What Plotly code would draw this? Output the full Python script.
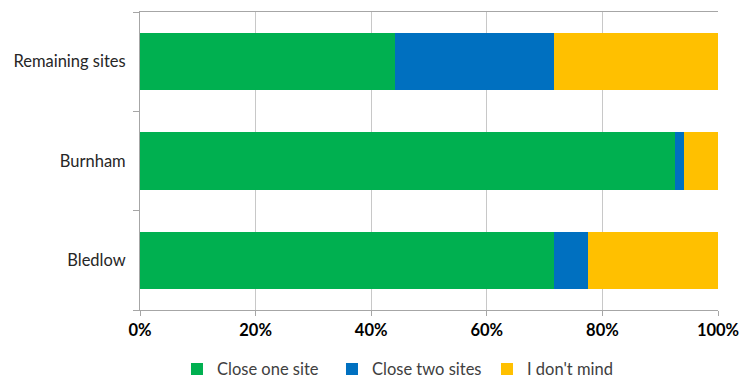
import plotly.graph_objects as go

# Survey responses per site (percent of respondents)
sites = ["Bledlow", "Burnham", "Remaining sites"]
close_one_site = [71.6, 92.5, 44.2]
close_two_sites = [5.9, 1.6, 27.4]
dont_mind = [22.5, 5.9, 28.4]

series = [
    ("Close one site", close_one_site, "#00B050"),
    ("Close two sites", close_two_sites, "#0070C0"),
    ("I don't mind", dont_mind, "#FFC000"),
]

fig = go.Figure()
for name, vals, color in series:
    fig.add_trace(go.Bar(
        y=sites, x=vals, name=name, orientation="h",
        marker=dict(color=color, line=dict(width=0)),
    ))

font_family = "Lato, Calibri, Arial, sans-serif"

fig.update_layout(
    barmode="stack",
    bargap=0.42,
    width=740, height=381,
    margin=dict(l=140, r=22, t=12, b=71, autoexpand=False),
    paper_bgcolor="white",
    plot_bgcolor="white",
    font=dict(family=font_family, size=16.5, color="#404040"),
    showlegend=True,
    legend=dict(
        orientation="h",
        x=0.064, xanchor="left",
        y=-0.14, yanchor="top",
        font=dict(size=16.5, color="#404040"),
        entrywidth=110,
        itemwidth=30,
        traceorder="normal",
    ),
    xaxis=dict(
        range=[0, 100],
        tickvals=[0, 20, 40, 60, 80, 100],
        ticktext=["<b>0%</b>", "<b>20%</b>", "<b>40%</b>", "<b>60%</b>", "<b>80%</b>", "<b>100%</b>"],
        showgrid=True, gridcolor="#c8c8c8", gridwidth=1,
        showline=True, linecolor="#a6a6a6", linewidth=1,
        mirror=True,
        ticks="outside", ticklen=5, tickcolor="#a6a6a6",
        tickfont=dict(size=16.5, color="#000000"),
        zeroline=False,
        fixedrange=True,
        automargin=False,
    ),
    yaxis=dict(
        categoryorder="array", categoryarray=sites,
        showline=True, linecolor="#a6a6a6", linewidth=1,
        ticks="outside", ticklen=6, tickcolor="#a6a6a6",
        tickson="boundaries",
        showgrid=False,
        tickfont=dict(size=16.5, color="#262626"),
        ticklabelstandoff=10,
        automargin=False,
    ),
)

fig.write_html("out.html")
